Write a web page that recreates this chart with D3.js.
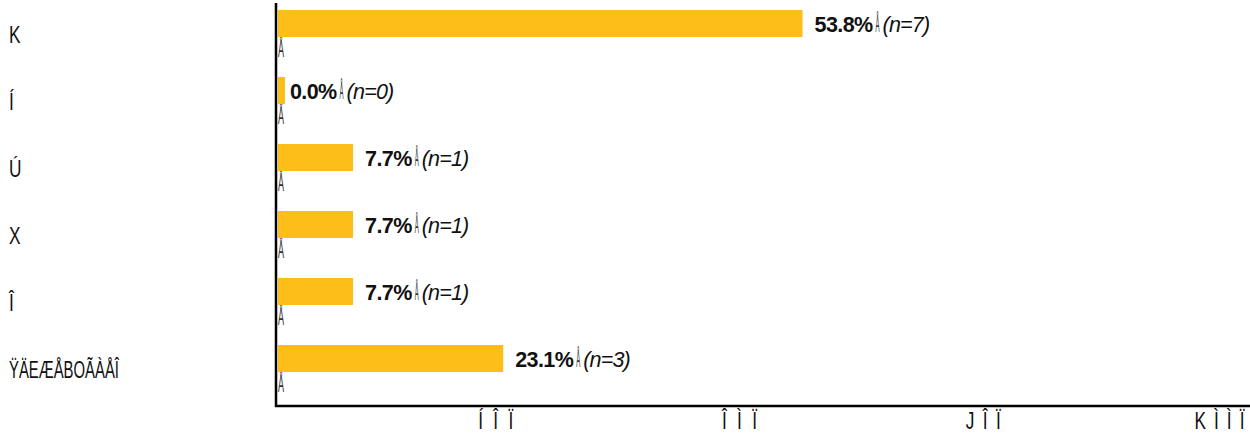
<!DOCTYPE html>
<html>
<head>
<meta charset="utf-8">
<script src="https://cdn.jsdelivr.net/npm/d3@7"></script>
<style>
  html, body { margin: 0; padding: 0; background: #fff; }
  svg { display: block; }
</style>
</head>
<body>
<div id="chart"></div>
<script>
// chart data (labels kept exactly as they appear)
const categories = ["K", "Í", "Ú", "X", "Î", "ŸÄEÆÅBOÃÀÅÎ"];
const percents   = [53.8, 0.0, 7.7, 7.7, 7.7, 23.1];
const counts     = [7, 0, 1, 1, 1, 3];
const tickValues = [25, 50, 75, 100];
const tickLabels = ["ÍÎÏ", "ÎÌÏ", "JÎÏ", "KÌÌÏ"];

(function() {
  "use strict";

  const width = 1250, height = 438;
  const BAR_COLOR = "#febe1a";
  const FONT = "'Liberation Sans', Arial, sans-serif";
  const SQUEEZE = 0.72; // labels in the picture look condensed

  const rows = categories.map((c, i) => ({ cat: c, pct: percents[i], n: counts[i] }));

  const svg = d3.select("#chart").append("svg")
    .attr("width", width)
    .attr("height", height);

  // scales
  const x = d3.scaleLinear().domain([0, 100]).range([278, 1253]);
  const y = d3.scaleBand()
    .domain(categories)
    .range([10, 372])
    .paddingInner(40 / 67);

  // stray glyph under each bar (drawn first so the bar hides its ring)
  svg.append("g")
    .selectAll("text")
    .data(rows)
    .join("text")
    .attr("x", x(0))
    .attr("y", d => y(d.cat) + 47)
    .attr("font-family", FONT)
    .attr("font-size", 24)
    .attr("fill", "#333")
    .attr("textLength", 6)
    .attr("lengthAdjust", "spacingAndGlyphs")
    .text("Å");

  // bars (zero bar gets a small stub)
  svg.append("g")
    .selectAll("rect")
    .data(rows)
    .join("rect")
    .attr("x", x(0))
    .attr("y", d => y(d.cat))
    .attr("width", d => Math.max(x(d.pct) - x(0), 7))
    .attr("height", y.bandwidth())
    .attr("fill", BAR_COLOR);

  // category labels
  svg.append("g")
    .selectAll("text")
    .data(rows)
    .join("text")
    .attr("transform", d => `translate(9,${y(d.cat) + 33}) scale(${SQUEEZE},1)`)
    .attr("font-family", FONT)
    .attr("font-size", 24)
    .attr("fill", "#111")
    .each(function(d) {
      if (d.cat.length > 2) {
        d3.select(this)
          .attr("textLength", 110 / SQUEEZE)
          .attr("lengthAdjust", "spacingAndGlyphs");
      }
    })
    .text(d => d.cat);

  // value labels: bold percent, stray glyph, italic count
  const fmt = d3.format(".1f");
  const labels = svg.append("g")
    .selectAll("g")
    .data(rows)
    .join("g")
    .attr("transform", d => `translate(${x(d.pct) + 12},${y(d.cat) + 22})`);

  labels.each(function(d) {
    const g = d3.select(this);
    const p = g.append("text")
      .attr("font-family", FONT)
      .attr("font-size", 21.5)
      .attr("font-weight", "bold")
      .attr("letter-spacing", -0.6)
      .attr("fill", "#111")
      .text(fmt(d.pct) + "%");
    const w = p.node().getComputedTextLength();
    g.append("text")
      .attr("x", w + 3)
      .attr("font-family", FONT)
      .attr("font-size", 24)
      .attr("fill", "#333")
      .attr("textLength", 4)
      .attr("lengthAdjust", "spacingAndGlyphs")
      .text("Å");
    g.append("text")
      .attr("x", w + 10)
      .attr("font-family", FONT)
      .attr("font-size", 21.5)
      .attr("font-style", "italic")
      .attr("letter-spacing", -0.8)
      .attr("fill", "#111")
      .text(`(n=${d.n})`);
  });

  // x axis tick labels
  const xAxis = d3.axisBottom(x)
    .tickValues(tickValues)
    .tickSize(0)
    .tickFormat((d, i) => tickLabels[i]);

  const axisG = svg.append("g")
    .attr("transform", "translate(0,406)")
    .call(xAxis);
  axisG.select(".domain").remove();
  axisG.selectAll("text")
    .attr("font-family", FONT)
    .attr("font-size", 24)
    .attr("fill", "#111")
    .attr("dy", null)
    .attr("y", null)
    .attr("text-anchor", "start")
    .attr("lengthAdjust", "spacing")
    .each(function(d, i) {
      const len = tickLabels[i].length > 3 ? 50 : 35;
      d3.select(this)
        .attr("textLength", len / SQUEEZE)
        .attr("transform", `translate(${-9 - len},23) scale(${SQUEEZE},1)`);
    });

  // axis lines
  svg.append("line")
    .attr("x1", 276).attr("x2", 276)
    .attr("y1", 3).attr("y2", 407)
    .attr("stroke", "#000")
    .attr("stroke-width", 2.5);
  svg.append("line")
    .attr("x1", 275).attr("x2", width)
    .attr("y1", 406).attr("y2", 406)
    .attr("stroke", "#000")
    .attr("stroke-width", 2.5);
})();
</script>
</body>
</html>
